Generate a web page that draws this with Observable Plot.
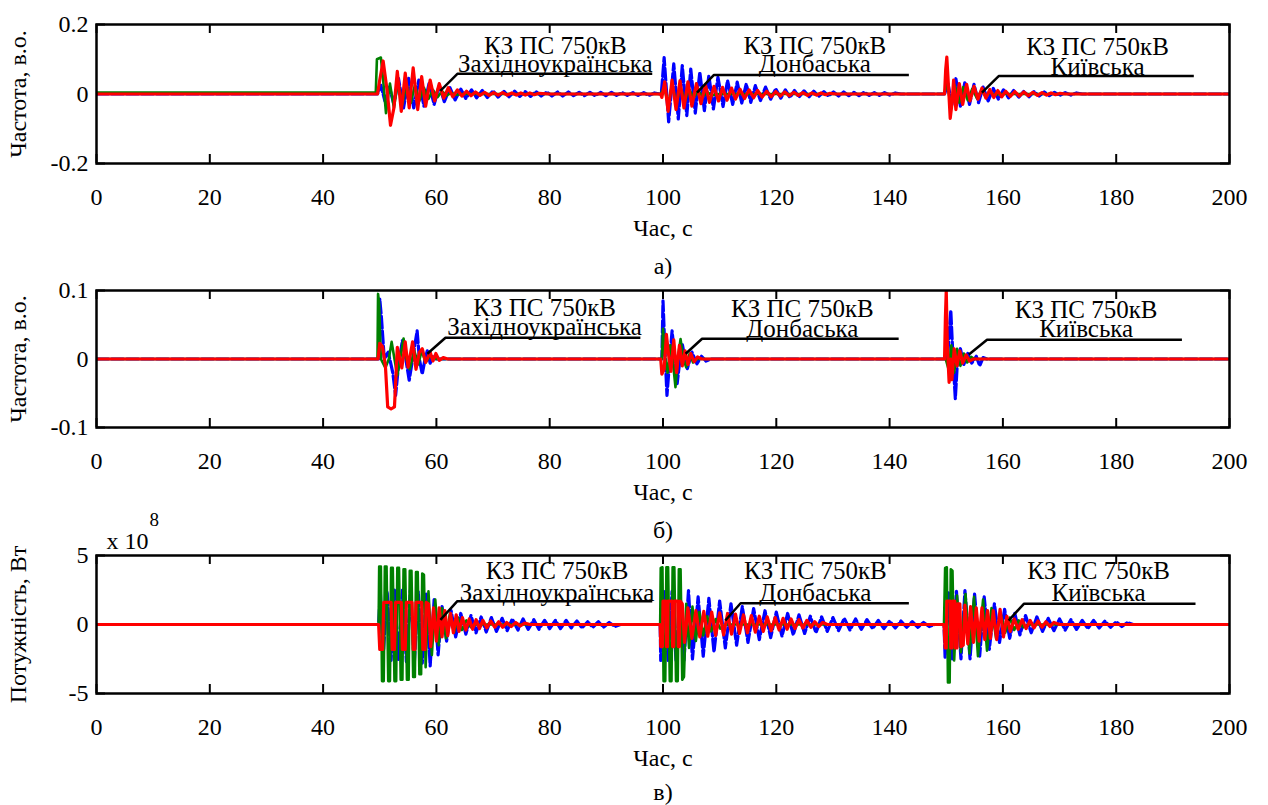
<!DOCTYPE html>
<html><head><meta charset="utf-8">
<script src="https://cdn.jsdelivr.net/npm/d3@7"></script>
<script src="https://cdn.jsdelivr.net/npm/@observablehq/plot@0.6"></script>
<style>
body{margin:0;background:#fff;}
#chart svg{display:block;overflow:visible;}
</style>
</head><body><div id="chart"></div>
<script>
// ---------- tick labels / categories ----------
const xTicks = [0,20,40,60,80,100,120,140,160,180,200];
const xTickLabels = ["0","20","40","60","80","100","120","140","160","180","200"];
const f1YTicks = [-0.2,0,0.2];
const f1YLabels = ["-0.2","0","0.2"];
const f2YTicks = [-0.1,0,0.1];
const f2YLabels = ["-0.1","0","0.1"];
const pYTicks = [-5,0,5];
const pYLabels = ["-5","0","5"];
const xTitle = "Час, с";
const yTitles = ["Частота, в.о.","Частота, в.о.","Потужність, Вт"];
const panelLetters = ["а)","б)","в)"];
const annTitle = "КЗ ПС 750кВ";
const annNames = ["Західноукраїнська","Донбаська","Київська"];

// ---------- panel а): frequency, p.u. ----------
const f1Blue = [[0,0],[49.6,0],[50.2,0.025],[50.9,-0.02],[51.7,0.02],[52.5,-0.03],[53.3,0.045],[54.2,-0.04],[55.1,0.045],[56.0,-0.04],[56.9,0.04],[57.8,-0.035],[58.7,0.03],[59.6,-0.03],[60.5,0.024],[61.4,-0.022],[62.4,0.018],[63.3,-0.017],[64.3,0.014],[65.2,-0.013],[66.2,0.012],[67.1,-0.011],[68.1,0.01],[69.0,-0.01],[70.0,0.009],[70.9,-0.009],[71.9,0.008],[72.8,-0.008],[73.8,0.008],[74.7,-0.007],[75.7,0.007],[76.6,-0.007],[77.6,0.007],[78.5,-0.006],[79.5,0.006],[80.4,-0.006],[81.4,0.006],[82.3,-0.006],[83.3,0.006],[84.2,-0.005],[85.2,0.005],[86.1,-0.005],[87.1,0.005],[88.0,-0.005],[89.0,0.005],[89.9,-0.005],[90.9,0.005],[91.8,-0.004],[92.8,0.004],[93.7,-0.004],[94.7,0.004],[95.6,-0.004],[96.6,0.004],[97.5,-0.004],[98.5,0.003],[99.5,0],
[99.7,0],[100.2,0.105],[101.0,-0.08],[101.9,0.087],[102.7,-0.072],[103.4,0.082],[104.2,-0.062],[104.9,0.072],[105.7,-0.055],[106.5,0.063],[107.3,-0.048],[108.1,0.053],[108.9,-0.043],[109.7,0.048],[110.6,-0.036],[111.4,0.039],[112.3,-0.03],[113.1,0.034],[113.9,-0.026],[114.7,0.029],[115.5,-0.024],[116.3,0.024],[117.2,-0.019],[118.1,0.02],[119.0,-0.015],[119.9,0.015],[120.8,-0.012],[121.6,0.012],[122.4,-0.01],[123.2,0.01],[124.0,-0.009],[124.9,0.009],[125.8,-0.008],[126.6,0.008],[127.5,-0.007],[128.4,0.007],[129.2,-0.006],[130.1,0.006],[131.0,-0.006],[131.9,0.006],[132.8,-0.005],[133.7,0.005],[134.6,-0.005],[135.5,0.005],[136.4,-0.004],[137.3,0.004],[138.2,-0.004],[139.1,0.004],[140.0,-0.003],[141,0.003],[142,0],[149.5,0],
[149.7,0],[150.3,0.03],[151.0,-0.03],[151.7,0.044],[152.5,-0.035],[153.3,0.035],[154.1,-0.03],[154.9,0.028],[155.7,-0.025],[156.5,0.02],[157.4,-0.02],[158.3,0.016],[159.2,-0.015],[160.1,0.012],[161.0,-0.011],[161.9,0.01],[162.8,-0.009],[163.7,0.008],[164.6,-0.008],[165.5,0.007],[166.4,-0.006],[167.3,0.006],[168.2,-0.005],[169.1,0.005],[170.0,-0.004],[171,0.004],[172,-0.003],[173,0.003],[174,0],[200,0]];
const f1Green = [[0,0.004],[49.3,0.004],[49.5,0.1],[50.2,0.105],[50.6,0.04],[51.1,-0.055],[51.8,0.03],[52.5,-0.04],[53.2,0.035],[54.0,-0.03],[54.7,0.03],[55.5,-0.025],[56.2,0.025],[57.0,-0.02],[57.8,0.018],[58.6,-0.014],[59.4,0.012],[60.2,-0.009],[61.0,0.008],[61.8,-0.005],[62.6,0.004],[63.4,-0.003],[64.5,0],[99.6,0],
[100.2,0.02],[100.9,-0.03],[101.6,0.025],[102.4,-0.025],[103.1,0.02],[103.9,-0.02],[104.6,0.015],[105.4,-0.012],[106.2,0.01],[107,-0.008],[107.8,0.006],[108.6,-0.004],[109.5,0],[149.6,0],
[150.1,0.03],[150.8,-0.03],[151.5,0.025],[152.3,-0.025],[153.0,0.02],[153.8,-0.018],[154.6,0.015],[155.4,-0.012],[156.2,0.01],[157,-0.007],[157.8,0.005],[158.6,-0.003],[159.5,0],[200,0]];
const f1Red = [[0,0],[49.6,0],[50.0,0.04],[50.6,0.095],[51.3,0.01],[51.9,-0.09],[52.5,-0.04],[53.1,0.065],[53.8,-0.05],[54.5,0.06],[55.2,-0.04],[55.9,0.075],[56.7,-0.045],[57.4,0.05],[58.1,-0.035],[58.9,0.04],[59.7,-0.02],[60.5,0.03],[61.3,-0.012],[62.1,0.018],[62.9,-0.008],[63.7,0.012],[64.5,-0.006],[65.3,0.008],[66.1,-0.005],[66.9,0.006],[67.7,-0.004],[68.5,0.005],[69.3,-0.004],[70.1,0.004],[70.9,-0.003],[71.7,0.004],[72.5,-0.003],[73.3,0.003],[74.1,-0.003],[74.9,0.003],[75.7,-0.003],[76.5,0.003],[77.3,-0.002],[78.1,0.002],[80,0],[99.6,0],
[99.8,-0.01],[100.3,0.035],[100.9,-0.05],[101.6,0.04],[102.3,-0.045],[103.0,0.038],[103.7,-0.04],[104.4,0.035],[105.1,-0.035],[105.9,0.03],[106.7,-0.028],[107.5,0.026],[108.2,-0.024],[109.0,0.022],[109.8,-0.02],[110.5,0.019],[111.3,-0.018],[112.1,0.017],[112.8,-0.015],[113.6,0.014],[114.4,-0.013],[115.2,0.012],[116.0,-0.011],[116.7,0.01],[117.5,-0.009],[118.3,0.008],[119.1,-0.008],[119.9,0.007],[120.7,-0.006],[121.5,0.006],[122.3,-0.005],[123.1,0.005],[123.9,-0.004],[124.7,0.004],[125.5,-0.004],[126.3,0.003],[127.1,-0.003],[127.9,0.003],[128.7,-0.002],[129.5,0.002],[130.5,0],[149.7,0],
[149.9,0.07],[150.1,0.106],[150.4,0.02],[150.7,-0.07],[151.0,-0.03],[151.3,0.04],[151.7,-0.045],[152.3,0.03],[152.9,-0.03],[153.6,0.028],[154.2,-0.02],[154.9,0.022],[155.6,-0.015],[156.3,0.017],[157.0,-0.012],[157.7,0.013],[158.4,-0.01],[159.1,0.01],[159.8,-0.008],[160.5,0.008],[161.3,-0.007],[162.1,0.007],[162.9,-0.006],[163.7,0.006],[164.5,-0.005],[165.3,0.005],[166.1,-0.004],[166.9,0.004],[167.7,-0.003],[168.5,0.003],[169.3,-0.002],[170.1,0.002],[171,0],[200,0]];
const f1AnnX = [81, 126.8, 176.7];
const f1AnnY1 = [0.137, 0.137, 0.135];
const f1AnnY2 = [0.087, 0.085, 0.079];
const f1Leaders = [[[60.7,0.009],[63.7,0.058],[98.1,0.058]],[[106.0,0.004],[109.0,0.055],[143.4,0.055]],[[156.3,0.004],[159.3,0.052],[193.7,0.052]]];

// ---------- panel б): frequency, p.u. ----------
const f2Blue = [[0,0],[49.8,0],[50.0,0.088],[50.3,0.06],[50.8,0.0],[51.5,0.01],[52.3,-0.02],[52.8,-0.053],[53.3,-0.01],[54.0,0.027],[54.6,0.0],[55.2,-0.031],[55.8,0.0],[56.6,0.041],[57.0,0.0],[57.5,-0.022],[58.0,0.0],[58.4,0.012],[58.9,-0.006],[59.4,0.005],[60,0],[99.8,0],
[100.0,0.085],[100.3,0.02],[100.7,-0.053],[101.2,0.0],[101.6,0.041],[102.1,0.0],[102.5,-0.036],[103.0,0.0],[103.4,0.022],[103.9,0],[104.3,-0.014],[105.1,0.01],[106.0,-0.007],[106.8,0.004],[107.6,-0.003],[108.5,0],[149.9,0],
[150.3,0.01],[150.8,0.071],[151.2,0.0],[151.6,-0.058],[152.0,0.0],[152.5,0.015],[153.1,-0.008],[153.8,0.008],[154.5,-0.006],[155.3,0.004],[155.9,-0.01],[156.5,0.002],[157.2,0],[200,0]];
const f2Green = [[0,0],[49.6,0],[49.7,0.095],[49.9,0.08],[50.2,0.0],[51.0,-0.013],[51.6,0.0],[52.1,0.025],[52.6,0.0],[53.1,-0.024],[53.6,0.0],[54.2,0.03],[54.7,0.0],[55.3,-0.015],[56.1,0.012],[56.8,-0.008],[57.4,0.012],[58.1,-0.005],[58.8,0.004],[59.5,0],[99.8,0],
[100.0,0.044],[100.4,0.0],[100.8,-0.02],[101.3,0.02],[101.7,0.0],[102.2,-0.041],[102.6,0.0],[103.1,0.029],[103.6,0],[104.1,-0.012],[104.7,0.008],[105.3,-0.005],[106,0],[149.9,0],
[150.4,-0.015],[150.9,0.02],[151.4,-0.02],[151.9,0.015],[152.5,-0.01],[153.1,0.008],[153.7,-0.005],[154.4,0.003],[155,0],[200,0]];
const f2Red = [[0,0],[49.7,0],[50.0,0.023],[50.5,0.018],[51.0,-0.01],[51.4,-0.07],[52.0,-0.073],[52.6,-0.07],[53.1,0.017],[53.9,-0.013],[54.5,0.025],[55.0,-0.012],[55.8,0.025],[56.4,-0.015],[57.0,0.01],[57.5,0.015],[58.1,-0.005],[58.9,0.01],[59.4,-0.003],[59.9,0.008],[60.5,-0.002],[61.2,0.002],[62,0],[99.6,0],
[99.8,-0.022],[100.2,-0.015],[100.6,0.036],[101.0,0.005],[101.4,-0.018],[101.9,0.028],[102.4,-0.02],[102.9,0.02],[103.4,-0.01],[103.9,0.012],[104.4,-0.008],[104.9,0.008],[105.5,-0.004],[106.1,0.003],[106.8,0],[149.7,0],
[149.85,0.06],[150.0,0.1],[150.2,0.02],[150.5,-0.034],[150.8,0.0],[151.0,-0.03],[151.4,0.015],[151.9,-0.01],[152.4,0.012],[152.9,-0.006],[153.5,0.006],[154.1,-0.003],[154.8,0],[200,0]];
const f2AnnX = [79.1, 124.6, 174.7];
const f2AnnY1 = [0.075, 0.073, 0.072];
const f2AnnY2 = [0.046, 0.044, 0.044];
const f2Leaders = [[[58.4,0.0076],[61.6,0.031],[96.0,0.031]],[[104.0,0.0076],[106.9,0.0295],[141.6,0.0295]],[[154.0,0.0066],[157.2,0.028],[191.6,0.028]]];

// ---------- panel в): power, x10^8 W ----------
const pBlue = [[0,0],[49.8,0],[50.1,2.4],[50.6,-2.4],[51.3,2.4],[52.0,-2.6],[52.6,2.5],[53.3,-2.6],[54.0,2.5],[54.7,-2.7],[55.4,2.5],[56.1,-2.8],[56.8,2.4],[57.5,-2.8],[58.2,2.2],[58.9,-3.0],[59.6,1.8],[60.3,-2.2],[61.0,1.3],[61.8,-1.2],[62.6,1.0],[63.4,-0.9],[64.3,0.8],[65.2,-0.7],[66.1,0.65],[67.0,-0.6],[67.9,0.55],[68.8,-0.55],[69.7,0.5],[70.6,-0.5],[71.6,0.45],[72.5,-0.45],[73.4,0.4],[74.4,-0.4],[75.3,0.4],[76.2,-0.35],[77.2,0.35],[78.1,-0.35],[79.1,0.3],[80.0,-0.3],[81.0,0.3],[81.9,-0.3],[82.9,0.3],[83.8,-0.25],[84.8,0.25],[85.7,-0.25],[86.7,0.2],[87.6,-0.2],[88.6,0.2],[89.5,-0.2],[90.5,0.15],[91.5,-0.15],[92.5,0],[99.5,0],
[99.6,-2.6],[100.2,2.4],[100.9,-2.6],[101.6,2.4],[102.3,-2.6],[103.0,2.4],[103.7,-2.6],[104.5,2.46],[105.2,-2.5],[106.2,2.0],[107.1,-2.3],[108.1,1.9],[109.0,-2.0],[110.0,1.7],[111.0,-1.7],[112.0,1.5],[113.0,-1.5],[114.0,1.3],[115.0,-1.3],[116.0,1.15],[117.0,-1.1],[118.0,1.0],[119.0,-0.95],[120.0,0.9],[121.0,-0.85],[122.0,0.8],[123.0,-0.75],[124.0,0.7],[125.0,-0.65],[126.0,0.6],[127.0,-0.6],[128.0,0.55],[129.0,-0.5],[130.0,0.5],[131.0,-0.45],[132.0,0.45],[133.0,-0.4],[134.0,0.4],[135.0,-0.35],[136.0,0.35],[137.0,-0.3],[138.0,0.3],[139.0,-0.3],[140.0,0.25],[141.0,-0.25],[142.0,0.25],[143.0,-0.2],[144.0,0.2],[145.0,-0.2],[146.0,0.15],[147.0,-0.15],[148,0],[149.6,0],
[149.8,-2.4],[150.4,2.3],[151.1,-2.5],[151.8,2.4],[152.6,-2.5],[153.3,2.46],[154.2,-2.5],[155.0,2.2],[155.9,-2.3],[156.7,2.0],[157.6,-1.8],[158.5,1.5],[159.4,-1.3],[160.3,1.1],[161.2,-1.0],[162.1,0.8],[163.0,-0.75],[164.0,0.65],[165.0,-0.6],[166.0,0.55],[167.0,-0.5],[168.0,0.45],[169.0,-0.45],[170.0,0.4],[171.0,-0.4],[172.0,0.35],[173.0,-0.35],[174.0,0.3],[175.0,-0.3],[176.0,0.3],[177.0,-0.25],[178.0,0.25],[179.0,-0.2],[180.0,0.2],[181,-0.15],[182,0.15],[183,0],[200,0]];
const pGreen = [[0,0],[49.8,0],[49.9,4.2],[50.2,4.2],[50.4,-4.1],[50.7,-4.1],[50.9,4.2],[51.2,4.2],[51.5,-4.1],[51.8,-4.1],[52.0,4.1],[52.3,4.1],[52.6,-4.1],[52.9,-4.1],[53.1,4.1],[53.4,4.1],[53.7,-4.0],[54.0,-4.0],[54.2,4.0],[54.5,4.0],[54.8,-4.0],[55.1,-4.0],[55.3,3.9],[55.6,3.9],[55.9,-3.8],[56.2,-3.8],[56.4,3.8],[56.7,3.8],[57.0,-3.6],[57.3,-3.6],[57.5,3.7],[57.8,3.6],[58.1,-3.1],[58.6,2.4],[59.2,-2.2],[59.8,1.8],[60.4,-1.5],[61.0,1.2],[61.7,-1.0],[62.4,0.8],[63.1,-0.6],[63.8,0.5],[64.5,-0.4],[65.3,0.3],[66.1,-0.2],[67,0],[99.5,0],
[99.6,4.1],[99.9,4.15],[100.1,-4.1],[100.4,-4.1],[100.6,4.15],[100.9,4.15],[101.2,-4.1],[101.5,-4.1],[101.7,4.15],[102.0,4.15],[102.3,-4.1],[102.6,-4.1],[102.8,4.0],[103.1,4.0],[103.4,-4.0],[103.7,-3.8],[104.1,1.5],[104.6,-1.7],[105.2,1.3],[105.8,-1.2],[106.4,0.9],[107.1,-0.8],[107.8,0.6],[108.5,-0.5],[109.3,0.4],[110.1,-0.3],[111,0],[149.6,0],
[149.8,4.1],[150.1,4.15],[150.3,-4.2],[150.6,-4.2],[150.8,4.0],[151.1,3.9],[151.4,-2.6],[151.9,2.1],[152.6,-2.0],[153.4,2.2],[154.1,-2.1],[154.9,2.0],[155.6,-2.3],[156.5,1.8],[157.2,-1.9],[158.0,1.2],[158.8,-1.0],[159.6,0.8],[160.4,-0.6],[161.2,0.5],[162.0,-0.4],[162.8,0.3],[163.6,-0.2],[164.5,0],[200,0]];
const pRed = [[0,0],[49.8,0],[50.0,-1.8],[50.5,-1.8],[50.7,1.6],[52.0,1.6],[52.2,-1.8],[52.6,-1.8],[52.8,1.6],[53.8,1.6],[54.0,-1.8],[54.5,-1.8],[54.7,1.6],[55.7,1.6],[55.9,-1.8],[56.2,-1.8],[56.4,1.6],[57.4,1.6],[57.6,-1.8],[58.0,-1.8],[58.2,1.6],[58.6,1.5],[59.0,-1.6],[59.5,1.2],[60.0,-1.2],[60.5,1.2],[61.0,-0.9],[61.5,1.0],[62.0,-0.8],[62.5,0.8],[63.0,-0.6],[63.5,0.7],[64.0,-0.5],[64.6,0.5],[65.2,-0.4],[65.8,0.4],[66.4,-0.35],[67.0,0.35],[67.6,-0.3],[68.2,0.3],[68.9,-0.25],[69.6,0.25],[70.3,-0.2],[71.0,0.2],[71.7,-0.2],[72.4,0.15],[73.2,-0.15],[74.0,0.15],[74.8,-0.1],[75.6,0.1],[76.5,0],[99.5,0],
[99.6,-1.6],[99.9,-1.6],[100.0,1.7],[100.5,1.7],[100.6,-1.6],[100.8,-1.6],[100.9,1.7],[101.6,1.7],[101.7,-1.6],[101.9,-1.6],[102.0,1.7],[102.6,1.7],[102.7,-1.6],[102.9,-1.6],[103.0,1.7],[103.4,1.5],[103.8,-1.3],[104.4,1.2],[105.1,-1.0],[105.8,1.0],[106.5,-0.9],[107.2,0.95],[107.9,-0.85],[108.6,0.9],[109.3,-0.8],[110.0,0.85],[110.7,-0.75],[111.4,0.8],[112.1,-0.7],[112.8,0.75],[113.5,-0.65],[114.2,0.7],[114.9,-0.6],[115.6,0.65],[116.3,-0.55],[117.0,0.6],[117.7,-0.5],[118.4,0.55],[119.1,-0.45],[119.8,0.5],[120.5,-0.4],[121.2,0.45],[121.9,-0.35],[122.6,0.4],[123.3,-0.3],[124.0,0.35],[124.7,-0.25],[125.4,0.3],[126.1,-0.2],[126.8,0.2],[127.5,-0.15],[128.2,0.15],[129,0],[149.6,0],
[149.8,-1.7],[150.0,-1.7],[150.1,1.7],[150.7,1.7],[150.8,-1.7],[151.0,-1.7],[151.1,1.7],[151.5,1.7],[151.6,-1.7],[151.9,-1.7],[152.0,1.5],[152.4,1.5],[152.6,-1.6],[153.0,-1.5],[153.3,1.4],[153.8,-1.4],[154.3,1.3],[154.8,-1.3],[155.3,1.2],[155.8,-1.2],[156.3,1.2],[156.8,-1.1],[157.3,1.0],[157.8,-1.0],[158.3,1.0],[158.9,-1.1],[159.5,1.1],[160.1,-0.9],[160.7,0.6],[161.3,-0.5],[162.0,0.4],[162.7,-0.35],[163.4,0.35],[164.1,-0.3],[164.8,0.3],[165.5,-0.25],[166.2,0.25],[166.9,-0.2],[167.6,0.2],[168.3,-0.15],[169.0,0.15],[170,0],[200,0]];
const pAnnX = [81.3, 126.9, 176.9];
const pAnnY1 = [3.85, 3.85, 3.85];
const pAnnY2 = [2.3, 2.3, 2.3];
const pLeaders = [[[60.7,0.34],[63.7,1.69],[98.1,1.69]],[[111.0,0.29],[113.7,1.54],[143.4,1.54]],[[161.0,0.29],[163.7,1.5],[194.0,1.5]]];
const pExponentBase = "x 10";
const pExponent = "8";

// ---------- drawing ----------
const W = 1268, ML = 96, MR = 39;
const FONT = "'Liberation Serif', 'Times New Roman', Times, serif";
const FS = 24;
const T = {fontFamily: FONT, fill: "black", lineAnchor: "middle"};

function panel(c, idx) {
  const plotH = c.h - c.mt - c.mb;
  const plotW = W - ML - MR;
  const [y0, y1] = c.yd;
  const tx = 9 * 200 / plotW;
  const ty = 9 * (y1 - y0) / plotH;
  const leaderRows = c.leaders.flatMap((pts, k) => pts.map(p => ({x: p[0], y: p[1], k})));
  const marks = [
    Plot.ruleX(xTicks, {x: d => d, y1: y0, y2: y0 + ty, stroke: "black", strokeWidth: 2}),
    Plot.ruleX(xTicks, {x: d => d, y1: y1, y2: y1 - ty, stroke: "black", strokeWidth: 2}),
    Plot.ruleY(c.yt, {y: d => d, x1: 0, x2: tx, stroke: "black", strokeWidth: 2}),
    Plot.ruleY(c.yt, {y: d => d, x1: 200, x2: 200 - tx, stroke: "black", strokeWidth: 2}),
    Plot.line(c.blue, {stroke: "#0000ff", strokeWidth: 3.2, strokeDasharray: "12,3", clip: true}),
    Plot.line(c.green, {stroke: "#008000", strokeWidth: 2.6, clip: true}),
    Plot.line(c.red, {stroke: "#ff0000", strokeWidth: 3.2, clip: true}),
    Plot.line(leaderRows, {x: "x", y: "y", z: "k", stroke: "black", strokeWidth: 2.5, strokeLinejoin: "miter", strokeLinecap: "butt"}),
    Plot.text(c.annX, {...T, x: d => d, y: (d, i) => c.annY1[i], text: () => annTitle, fontSize: 25, textAnchor: "middle"}),
    Plot.text(c.annX, {...T, x: d => d, y: (d, i) => c.annY2[i], text: (d, i) => annNames[i], fontSize: 25, textAnchor: "middle"}),
    Plot.frame({stroke: "black", strokeWidth: 2.5}),
    Plot.axisX({ticks: xTicks, tickFormat: d => xTickLabels[xTicks.indexOf(d)], tickSize: 0, tickPadding: 24, fontSize: FS, fontFamily: FONT, anchor: "bottom", label: null}),
    Plot.axisY({ticks: c.yt, tickFormat: d => c.ytl[c.yt.indexOf(d)], tickSize: 0, tickPadding: 8, fontSize: FS, fontFamily: FONT, anchor: "left", label: null}),
    Plot.text([xTitle], {...T, frameAnchor: "bottom", dy: 65, fontSize: FS, textAnchor: "middle"}),
    Plot.text([panelLetters[idx]], {...T, frameAnchor: "bottom", dy: c.letterDy, fontSize: FS, textAnchor: "middle"}),
    Plot.text([yTitles[idx]], {...T, frameAnchor: "left", dx: -78, rotate: -90, fontSize: FS, textAnchor: "middle"})
  ];
  if (c.exp) {
    marks.push(Plot.text([pExponentBase], {...T, frameAnchor: "top-left", dx: 10, dy: -14, textAnchor: "start", fontSize: FS}));
    marks.push(Plot.text([pExponent], {...T, frameAnchor: "top-left", dx: 53, dy: -36, textAnchor: "start", fontSize: 19}));
  }
  return Plot.plot({
    width: W, height: c.h,
    marginLeft: ML, marginRight: MR, marginTop: c.mt, marginBottom: c.mb,
    x: {domain: [0, 200]},
    y: {domain: c.yd},
    style: {fontFamily: FONT, fontSize: FS + "px", background: "transparent", overflow: "visible", color: "black"},
    marks
  });
}

const cfgs = [
  {h: 275, mt: 24, mb: 112, letterDy: 103, yd: [-0.2, 0.2], yt: f1YTicks, ytl: f1YLabels, blue: f1Blue, green: f1Green, red: f1Red, annX: f1AnnX, annY1: f1AnnY1, annY2: f1AnnY2, leaders: f1Leaders},
  {h: 265, mt: 15, mb: 113, letterDy: 103, yd: [-0.1, 0.1], yt: f2YTicks, ytl: f2YLabels, blue: f2Blue, green: f2Green, red: f2Red, annX: f2AnnX, annY1: f2AnnY1, annY2: f2AnnY2, leaders: f2Leaders},
  {h: 265, mt: 15, mb: 112, letterDy: 99, yd: [-5, 5], yt: pYTicks, ytl: pYLabels, blue: pBlue, green: pGreen, red: pRed, annX: pAnnX, annY1: pAnnY1, annY2: pAnnY2, leaders: pLeaders, exp: true}
];
const host = document.getElementById("chart");
cfgs.forEach((c, i) => host.appendChild(panel(c, i)));
</script></body></html>
